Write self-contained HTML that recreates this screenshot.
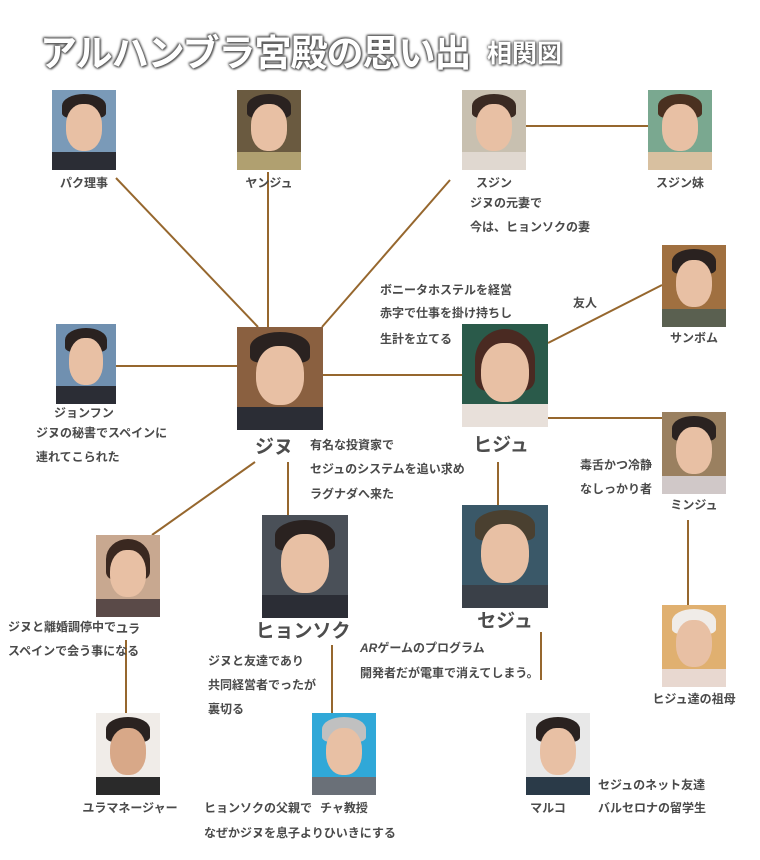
<!DOCTYPE html>
<html><head><meta charset="utf-8">
<style>
body{margin:0;width:760px;height:860px;background:#fff;position:relative;overflow:hidden;font-family:"Liberation Sans","Noto Sans CJK JP",sans-serif;font-weight:bold;color:#4a4a4a}
.t{position:absolute;font-size:12px;white-space:nowrap;line-height:14px}
.n{position:absolute;font-size:12px;white-space:nowrap;transform:translateX(-50%);line-height:14px}
.b{position:absolute;font-size:19px;white-space:nowrap;transform:translateX(-50%);line-height:22px;color:#4d4d4d}
.p{position:absolute;overflow:hidden}
.p i{position:absolute;left:22%;top:18%;width:56%;height:58%;border-radius:45%;background:#e8c0a4}
.p s{position:absolute;left:15%;top:5%;width:70%;height:30%;border-radius:50% 50% 20% 20%;background:#2a2220}
.p u{position:absolute;left:0;bottom:0;width:100%;height:22%;background:#2b2d35}
svg{position:absolute;left:0;top:0}
.title{position:absolute;left:40px;top:23px;font-size:37px;color:#fff;letter-spacing:-1px;text-shadow:0 0 2px #555,0 0 3px #555,1px 1px 2px #444,-1px -1px 2px #666}
.title2{position:absolute;left:487px;top:34px;font-size:25px;color:#fff;text-shadow:0 0 2px #555,0 0 3px #555,1px 1px 2px #444}
</style></head><body>
<div class="title">アルハンブラ宮殿の思い出</div>
<div class="title2">相関図</div>
<svg width="760" height="860">
<g stroke="#96672e" stroke-width="2" fill="none">
<line x1="116" y1="178" x2="258" y2="327"/>
<line x1="268" y1="172" x2="268" y2="327"/>
<line x1="450" y1="180" x2="322" y2="327"/>
<line x1="526" y1="126" x2="648" y2="126"/>
<line x1="116" y1="366" x2="237" y2="366"/>
<line x1="323" y1="375" x2="462" y2="375"/>
<line x1="548" y1="343" x2="662" y2="285"/>
<line x1="548" y1="418" x2="662" y2="418"/>
<line x1="498" y1="462" x2="498" y2="505"/>
<line x1="288" y1="462" x2="288" y2="515"/>
<line x1="255" y1="462" x2="152" y2="535"/>
<line x1="126" y1="640" x2="126" y2="713"/>
<line x1="332" y1="645" x2="332" y2="713"/>
<line x1="541" y1="632" x2="541" y2="680"/>
<line x1="688" y1="520" x2="688" y2="605"/>
</g></svg>

<div class="p" style="left:52px;top:90px;width:64px;height:80px;background:#7a9ab8"><s></s><i></i><u></u></div>
<div class="n" style="left:84px;top:176px">パク理事</div>
<div class="p" style="left:237px;top:90px;width:64px;height:80px;background:#6a5a40"><s></s><i></i><u style="background:#b0a070"></u></div>
<div class="n" style="left:269px;top:176px">ヤンジュ</div>
<div class="p" style="left:462px;top:90px;width:64px;height:80px;background:#c8c0b0"><s style="background:#3a2a22"></s><i></i><u style="background:#e0d8d0"></u></div>
<div class="n" style="left:494px;top:176px">スジン</div>
<div class="t" style="left:470px;top:196px">ジヌの元妻で</div>
<div class="t" style="left:470px;top:220px">今は、ヒョンソクの妻</div>
<div class="p" style="left:648px;top:90px;width:64px;height:80px;background:#7aa890"><s style="background:#4a3020"></s><i></i><u style="background:#d8c0a0"></u></div>
<div class="n" style="left:680px;top:176px">スジン妹</div>
<div class="p" style="left:662px;top:245px;width:64px;height:82px;background:#a07040"><s></s><i></i><u style="background:#5a6050"></u></div>
<div class="n" style="left:694px;top:331px">サンボム</div>
<div class="t" style="left:573px;top:296px">友人</div>
<div class="t" style="left:380px;top:283px">ボニータホステルを経営</div>
<div class="t" style="left:380px;top:306px">赤字で仕事を掛け持ちし</div>
<div class="t" style="left:380px;top:332px">生計を立てる</div>
<div class="p" style="left:56px;top:324px;width:60px;height:80px;background:#7090b0"><s></s><i></i><u></u></div>
<div class="n" style="left:84px;top:406px">ジョンフン</div>
<div class="t" style="left:36px;top:426px">ジヌの秘書でスペインに</div>
<div class="t" style="left:36px;top:450px">連れてこられた</div>
<div class="p" style="left:237px;top:327px;width:86px;height:103px;background:#8a6040"><s></s><i></i><u></u></div>
<div class="b" style="left:274px;top:437px">ジヌ</div>
<div class="t" style="left:310px;top:438px">有名な投資家で</div>
<div class="t" style="left:310px;top:462px">セジュのシステムを追い求め</div>
<div class="t" style="left:310px;top:487px">ラグナダへ来た</div>
<div class="p" style="left:462px;top:324px;width:86px;height:103px;background:#2a5a4a"><s style="background:#4a2a22;height:60%"></s><i></i><u style="background:#e8e0da"></u></div>
<div class="b" style="left:501px;top:435px">ヒジュ</div>
<div class="p" style="left:662px;top:412px;width:64px;height:82px;background:#9a8060"><s></s><i></i><u style="background:#d0c8c8"></u></div>
<div class="n" style="left:694px;top:498px">ミンジュ</div>
<div class="t" style="left:580px;top:458px">毒舌かつ冷静</div>
<div class="t" style="left:580px;top:482px">なしっかり者</div>
<div class="p" style="left:96px;top:535px;width:64px;height:82px;background:#c8a890"><s style="background:#3a2820;height:50%"></s><i></i><u style="background:#5a4a48"></u></div>
<div class="n" style="left:128px;top:622px">ユラ</div>
<div class="t" style="left:8px;top:620px">ジヌと離婚調停中で</div>
<div class="t" style="left:8px;top:644px">スペインで会う事になる</div>
<div class="p" style="left:262px;top:515px;width:86px;height:103px;background:#4a5058"><s></s><i></i><u></u></div>
<div class="b" style="left:303px;top:621px">ヒョンソク</div>
<div class="t" style="left:208px;top:654px">ジヌと友達であり</div>
<div class="t" style="left:208px;top:678px">共同経営者でったが</div>
<div class="t" style="left:208px;top:702px">裏切る</div>
<div class="p" style="left:462px;top:505px;width:86px;height:103px;background:#3a5868"><s style="background:#4a4030"></s><i></i><u style="background:#3a4048"></u></div>
<div class="b" style="left:505px;top:611px">セジュ</div>
<div class="t" style="left:360px;top:641px"><em>AR</em>ゲームのプログラム</div>
<div class="t" style="left:360px;top:666px">開発者だが電車で消えてしまう。</div>
<div class="p" style="left:662px;top:605px;width:64px;height:82px;background:#e0b070"><s style="background:#f0ece8"></s><i></i><u style="background:#e8d8d0"></u></div>
<div class="n" style="left:694px;top:692px">ヒジュ達の祖母</div>
<div class="p" style="left:96px;top:713px;width:64px;height:82px;background:#f0ece8"><s></s><i style="background:#d8a888"></i><u style="background:#2a2a2a"></u></div>
<div class="n" style="left:130px;top:801px">ユラマネージャー</div>
<div class="p" style="left:312px;top:713px;width:64px;height:82px;background:#30a8d8"><s style="background:#c0c0c0"></s><i></i><u style="background:#6a7078"></u></div>
<div class="n" style="left:344px;top:801px">チャ教授</div>
<div class="t" style="left:204px;top:801px">ヒョンソクの父親で</div>
<div class="t" style="left:204px;top:826px">なぜかジヌを息子よりひいきにする</div>
<div class="p" style="left:526px;top:713px;width:64px;height:82px;background:#e8e8e8"><s></s><i></i><u style="background:#2a3a48"></u></div>
<div class="n" style="left:548px;top:801px">マルコ</div>
<div class="t" style="left:598px;top:778px">セジュのネット友達</div>
<div class="t" style="left:598px;top:801px">バルセロナの留学生</div>
</body></html>
